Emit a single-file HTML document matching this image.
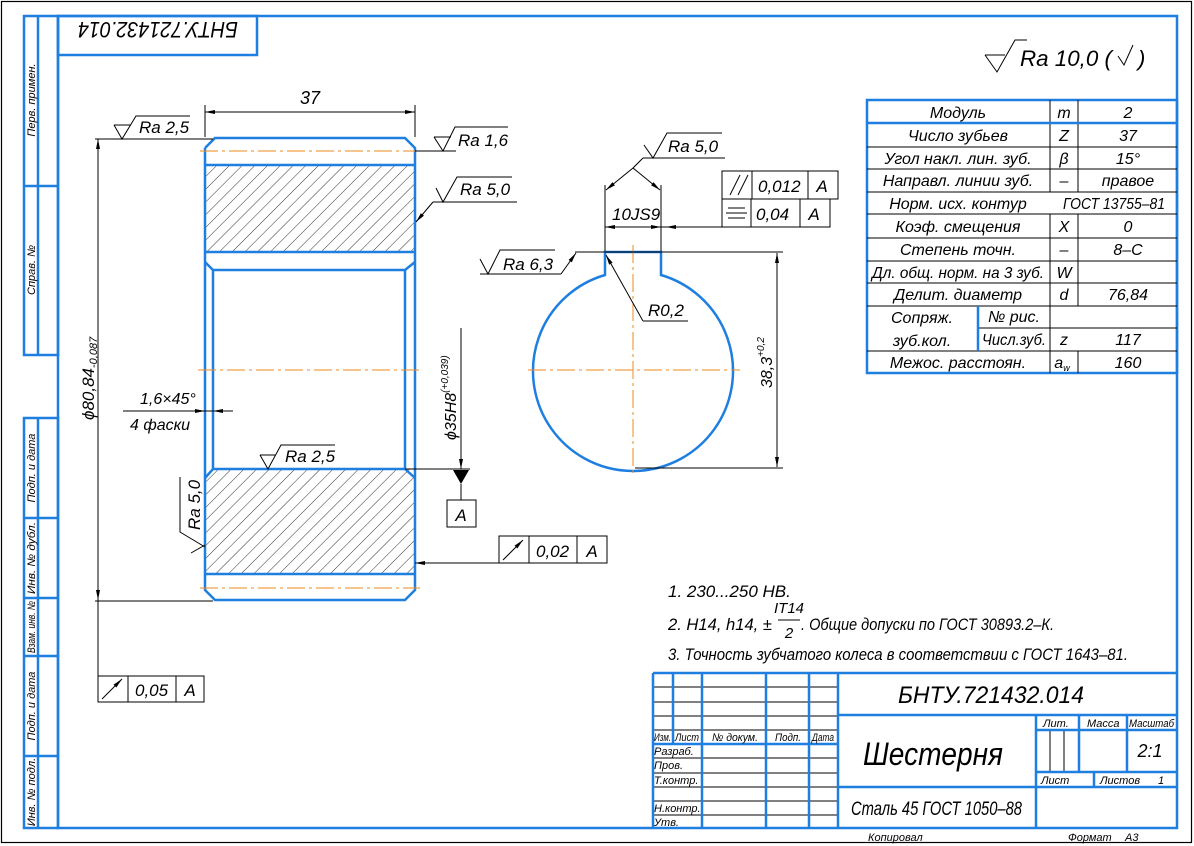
<!DOCTYPE html>
<html><head><meta charset="utf-8"><style>
html,body{margin:0;padding:0;background:#fff}
svg{display:block}
text{font-family:"Liberation Sans",sans-serif;font-style:italic;fill:#000}
.b{stroke:#1e7fe0;stroke-width:2.5;fill:none}
.k{stroke:#000;stroke-width:1;fill:none}
.o{stroke:#f08a1e;stroke-width:1;fill:none;stroke-dasharray:18 4 3 4}
</style></head><body>
<svg width="1194" height="846" viewBox="0 0 1194 846" xmlns="http://www.w3.org/2000/svg">
<defs>
<pattern id="h" width="9" height="9" patternUnits="userSpaceOnUse" patternTransform="rotate(45)">
<line x1="0" y1="0" x2="0" y2="9" stroke="#000" stroke-width="0.8"/>
</pattern>
<marker id="a" markerWidth="10" markerHeight="6" refX="10" refY="3" orient="auto" markerUnits="userSpaceOnUse"><path d="M0,1 L10,3 L0,5 z" fill="#000"/></marker>
<marker id="s" markerWidth="10" markerHeight="6" refX="0" refY="3" orient="auto" markerUnits="userSpaceOnUse"><path d="M10,1 L0,3 L10,5 z" fill="#000"/></marker>
</defs>
<rect x="1.5" y="1.5" width="1190" height="841" fill="none" stroke="#000" stroke-width="1.2"/>
<!-- frame -->
<rect class="b" x="58" y="16" width="1119" height="812"/>
<rect class="b" x="24" y="16" width="34" height="339"/>
<line class="b" x1="38" y1="16" x2="38" y2="355"/>
<line class="b" x1="24" y1="186" x2="58" y2="186"/>
<rect class="b" x="24" y="418" width="34" height="410"/>
<line class="b" x1="38" y1="418" x2="38" y2="828"/>
<line class="b" x1="24" y1="518" x2="58" y2="518"/>
<line class="b" x1="24" y1="598" x2="58" y2="598"/>
<line class="b" x1="24" y1="656" x2="58" y2="656"/>
<line class="b" x1="24" y1="756" x2="58" y2="756"/>
<g font-size="11">
<text transform="translate(35,100) rotate(-90)" text-anchor="middle">Перв. примен.</text>
<text transform="translate(35,270) rotate(-90)" text-anchor="middle">Справ. №</text>
<text transform="translate(35,468) rotate(-90)" text-anchor="middle">Подп. и дата</text>
<text transform="translate(35,558) rotate(-90)" text-anchor="middle" textLength="72" lengthAdjust="spacingAndGlyphs">Инв. № дубл.</text>
<text transform="translate(35,627) rotate(-90)" text-anchor="middle" textLength="52" lengthAdjust="spacingAndGlyphs">Взам. инв. №</text>
<text transform="translate(35,706) rotate(-90)" text-anchor="middle">Подп. и дата</text>
<text transform="translate(35,792) rotate(-90)" text-anchor="middle">Инв. № подл.</text>
</g>
<rect class="b" x="58" y="16" width="199" height="39"/>
<text transform="translate(158,28) rotate(180)" text-anchor="middle" font-size="22" dominant-baseline="middle" textLength="160" lengthAdjust="spacingAndGlyphs">БНТУ.721432.014</text>

<!-- Ra 10 top right -->
<polyline class="k" points="985,55 997,72 1015,40 1027,40" stroke-width="1.2"/>
<line class="k" x1="985" y1="55" x2="1005" y2="55"/>
<text x="1020" y="66" font-size="22" textLength="92" lengthAdjust="spacingAndGlyphs">Ra 10,0 (</text>
<polyline class="k" points="1118,56 1124,65 1133,45"/>
<text x="1138" y="66" font-size="22">)</text>

<!-- gear section -->
<rect x="205" y="165" width="210" height="87" fill="url(#h)"/>
<rect x="205" y="469" width="210" height="105" fill="url(#h)"/>
<polyline class="b" points="205,148 215,138 405,138 415,148 415,590 405,600 215,600 205,590 205,148"/>
<line class="b" x1="205" y1="165" x2="415" y2="165"/>
<line class="b" x1="205" y1="252" x2="415" y2="252"/>
<polyline class="b" points="205,262 213,270 405,270 415,262"/>
<line class="b" x1="213" y1="270" x2="213" y2="469"/>
<line class="b" x1="405" y1="270" x2="405" y2="469"/>
<polyline class="b" points="205,478 213,469 405,469 415,478"/>
<line class="b" x1="205" y1="574" x2="415" y2="574"/>
<line class="o" x1="200" y1="151" x2="420" y2="151"/>
<line class="o" x1="200" y1="588" x2="420" y2="588"/>
<line class="o" x1="198" y1="370" x2="422" y2="370"/>

<!-- dim 37 -->
<line class="k" x1="205" y1="105" x2="205" y2="137"/>
<line class="k" x1="415" y1="105" x2="415" y2="137"/>
<line class="k" x1="205" y1="112" x2="415" y2="112" marker-start="url(#s)" marker-end="url(#a)"/>
<text x="310" y="104" font-size="18" text-anchor="middle">37</text>
<!-- Ra 2,5 top left -->
<line class="k" x1="95" y1="139" x2="213" y2="139"/>
<polyline class="k" points="114,125 131,125"/>
<polyline class="k" points="114,125 122,139 136,116 190,116"/>
<text x="139" y="133" font-size="17">Ra 2,5</text>
<!-- φ80 -->
<line class="k" x1="98" y1="139" x2="98" y2="676" />
<line class="k" x1="98" y1="139" x2="98" y2="600" marker-start="url(#s)" marker-end="url(#a)"/>
<line class="k" x1="95" y1="601" x2="213" y2="601"/>
<text transform="translate(94,420) rotate(-90)" font-size="17">ϕ80,84<tspan font-size="11" dy="3">-0,087</tspan></text>
<!-- Ra 1,6 -->
<line class="k" x1="415" y1="151" x2="456" y2="151"/>
<line class="k" x1="434" y1="137" x2="451" y2="137"/>
<polyline class="k" points="434,137 443,151 455,127 508,127"/>
<text x="458" y="146" font-size="17">Ra 1,6</text>
<!-- Ra 5,0 -->
<polyline class="k" points="436,188 443,202 457,177 512,177"/>
<line class="k" x1="433" y1="202" x2="517" y2="202"/>
<line class="k" x1="433" y1="202" x2="416" y2="222" marker-end="url(#a)"/>
<text x="460" y="195" font-size="17">Ra 5,0</text>
<!-- chamfer -->
<line class="k" x1="123" y1="411" x2="233" y2="411"/>
<line class="k" x1="195" y1="411" x2="205" y2="411" marker-end="url(#a)"/>
<line class="k" x1="223" y1="411" x2="213" y2="411" marker-end="url(#a)"/>
<text x="140" y="404" font-size="16">1,6×45°</text>
<text x="130" y="430" font-size="16">4 фаски</text>
<!-- Ra 2,5 bottom -->
<line class="k" x1="260" y1="455" x2="275" y2="455"/>
<polyline class="k" points="260,455 268,469 281,445 335,445"/>
<text x="285" y="462" font-size="17">Ra 2,5</text>
<!-- Ra 5,0 rotated -->
<polyline class="k" points="180,477 180,532 205,547"/>
<line class="k" x1="191" y1="553" x2="205" y2="545"/>
<text transform="translate(200,530) rotate(-90)" font-size="17">Ra 5,0</text>
<!-- φ35H8 -->
<line class="k" x1="461" y1="328" x2="461" y2="469" marker-end="url(#a)"/>
<line class="k" x1="405" y1="469" x2="470" y2="469"/>
<path d="M453,470 L469,470 L461,484 z" fill="#000"/>
<line class="k" x1="461" y1="484" x2="461" y2="500"/>
<rect class="k" x="447" y="500" width="29" height="27"/>
<text x="461" y="521" font-size="17" text-anchor="middle">A</text>
<text transform="translate(456,440) rotate(-90)" font-size="16">ϕ35H8<tspan font-size="10" dy="-8">(+0,039)</tspan></text>
<!-- 0,02 frame -->
<line class="k" x1="499" y1="563" x2="415" y2="563" marker-end="url(#a)"/>
<rect class="k" x="499" y="536" width="108" height="27"/>
<line class="k" x1="529" y1="536" x2="529" y2="563"/>
<line class="k" x1="577" y1="536" x2="577" y2="563"/>
<line class="k" x1="503" y1="560" x2="523" y2="540" marker-end="url(#a)"/>
<text x="536" y="557" font-size="17">0,02</text>
<text x="592" y="557" font-size="17" text-anchor="middle">A</text>
<!-- 0,05 frame -->
<rect class="k" x="98" y="676" width="106" height="26"/>
<line class="k" x1="128" y1="676" x2="128" y2="702"/>
<line class="k" x1="176" y1="676" x2="176" y2="702"/>
<line class="k" x1="102" y1="699" x2="122" y2="679" marker-end="url(#a)"/>
<text x="135" y="696" font-size="17">0,05</text>
<text x="190" y="696" font-size="17" text-anchor="middle">A</text>

<!-- hub view -->
<path class="b" d="M605,252 L661,252 L661,275 A100,100 0 1 1 605,275 Z"/>
<line class="o" x1="633" y1="245" x2="633" y2="475"/>
<line class="o" x1="528" y1="370" x2="740" y2="370"/>
<line class="k" x1="605" y1="185" x2="605" y2="251"/>
<line class="k" x1="661" y1="185" x2="661" y2="251"/>
<line class="k" x1="605" y1="227" x2="722" y2="227"/>
<line class="k" x1="618" y1="227" x2="605" y2="227" marker-end="url(#a)"/>
<line class="k" x1="648" y1="227" x2="661" y2="227" marker-end="url(#a)"/>
<line class="k" x1="680" y1="227" x2="666" y2="227" marker-end="url(#a)"/>
<text x="612" y="220" font-size="17">10JS9</text>
<!-- tolerance frames -->
<rect class="k" x="722" y="171" width="116" height="28"/>
<line class="k" x1="752" y1="171" x2="752" y2="199"/>
<line class="k" x1="808" y1="171" x2="808" y2="199"/>
<line class="k" x1="730" y1="195" x2="740" y2="175"/><line class="k" x1="738" y1="195" x2="748" y2="175"/>
<text x="758" y="192" font-size="17">0,012</text>
<text x="822" y="192" font-size="17" text-anchor="middle">A</text>
<rect class="k" x="722" y="199" width="108" height="28"/>
<line class="k" x1="751" y1="199" x2="751" y2="227"/>
<line class="k" x1="800" y1="199" x2="800" y2="227"/>
<line class="k" x1="728" y1="208" x2="745" y2="208"/><line class="k" x1="726" y1="213" x2="747" y2="213"/><line class="k" x1="728" y1="218" x2="745" y2="218"/>
<text x="756" y="220" font-size="17">0,04</text>
<text x="814" y="220" font-size="17" text-anchor="middle">A</text>
<!-- Ra 5,0 keyway -->
<polyline class="k" points="644,145 653,158 667,133 722,133"/>
<line class="k" x1="643" y1="158" x2="725" y2="158"/>
<line class="k" x1="643" y1="158" x2="633" y2="168"/>
<line class="k" x1="633" y1="168" x2="606" y2="190" marker-end="url(#a)"/>
<line class="k" x1="633" y1="168" x2="660" y2="190" marker-end="url(#a)"/>
<text x="668" y="152" font-size="17">Ra 5,0</text>
<!-- Ra 6,3 -->
<polyline class="k" points="480,259 488,274 500,250 555,250"/>
<line class="k" x1="480" y1="274" x2="561" y2="274"/>
<line class="k" x1="561" y1="274" x2="576" y2="253" marker-end="url(#a)"/>
<text x="503" y="270" font-size="17">Ra 6,3</text>
<!-- 38.3 -->
<line class="k" x1="575" y1="252" x2="783" y2="252"/>
<line class="k" x1="635" y1="468" x2="783" y2="468"/>
<line class="k" x1="777" y1="253" x2="777" y2="467" marker-start="url(#s)" marker-end="url(#a)"/>
<text transform="translate(772,388) rotate(-90)" font-size="16">38,3<tspan font-size="10" dy="-8">+0,2</tspan></text>
<!-- R0,2 -->
<line class="k" x1="643" y1="321" x2="606" y2="255" marker-end="url(#a)"/>
<line class="k" x1="643" y1="321" x2="688" y2="321"/>
<text x="648" y="316" font-size="17">R0,2</text>

<!-- params table -->
<g>
<rect x="867" y="100" width="310" height="273" fill="none" stroke="#1e7fe0" stroke-width="2.5"/>
<g class="k">
<line x1="1050" y1="100" x2="1050" y2="192"/><line x1="1050" y1="214" x2="1050" y2="373"/>
<line x1="1078" y1="100" x2="1078" y2="192"/><line x1="1078" y1="214" x2="1078" y2="306"/><line x1="1078" y1="351" x2="1078" y2="373"/>
<line x1="1050" y1="306" x2="1050" y2="351"/>
<line x1="867" y1="147" x2="1177" y2="147"/><line x1="867" y1="169" x2="1177" y2="169"/>
<line x1="867" y1="192" x2="1177" y2="192"/><line x1="867" y1="214" x2="1177" y2="214"/>
<line x1="867" y1="238" x2="1177" y2="238"/><line x1="867" y1="261" x2="1177" y2="261"/>
<line x1="867" y1="283" x2="1177" y2="283"/><line x1="867" y1="306" x2="1177" y2="306"/>
<line x1="978" y1="328" x2="1177" y2="328"/><line x1="867" y1="351" x2="1177" y2="351"/>
</g>
<line class="b" x1="867" y1="123" x2="1177" y2="123"/>
<line class="b" x1="978" y1="306" x2="978" y2="351"/>
<g font-size="16" text-anchor="middle">
<text x="958" y="118">Модуль</text><text x="1064" y="118">m</text><text x="1128" y="118">2</text>
<text x="958" y="141">Число зубьев</text><text x="1064" y="141">Z</text><text x="1128" y="141">37</text>
<text x="958" y="164">Угол накл. лин. зуб.</text><text x="1064" y="164">β</text><text x="1128" y="164">15°</text>
<text x="958" y="186">Направл. линии зуб.</text><text x="1064" y="186">–</text><text x="1128" y="186">правое</text>
<text x="958" y="209">Норм. исх. контур</text><text x="1114" y="209" textLength="102" lengthAdjust="spacingAndGlyphs">ГОСТ 13755–81</text>
<text x="958" y="232">Коэф. смещения</text><text x="1064" y="232">X</text><text x="1128" y="232">0</text>
<text x="958" y="255">Степень точн.</text><text x="1064" y="255">–</text><text x="1128" y="255">8–С</text>
<text x="958" y="278" textLength="172" lengthAdjust="spacingAndGlyphs">Дл. общ. норм. на 3 зуб.</text><text x="1064" y="278">W</text>
<text x="958" y="300">Делит. диаметр</text><text x="1064" y="300">d</text><text x="1128" y="300">76,84</text>
<text x="922" y="323">Сопряж.</text><text x="922" y="346">зуб.кол.</text>
<text x="1014" y="322">№ рис.</text><text x="1014" y="345" textLength="64" lengthAdjust="spacingAndGlyphs">Числ.зуб.</text><text x="1064" y="345">z</text><text x="1128" y="345">117</text>
<text x="958" y="368">Межос. расстоян.</text><text x="1062" y="368">a<tspan font-size="9" dy="3">w</tspan></text><text x="1128" y="368">160</text>
</g>
</g>

<!-- notes -->
<g font-size="17">
<text x="668" y="597">1.  230...250 HB.</text>
<text x="668" y="630" textLength="104" lengthAdjust="spacingAndGlyphs">2.  H14, h14, ±</text>
<text x="789" y="613" font-size="15" text-anchor="middle">IT14</text>
<line class="k" x1="778" y1="620" x2="800" y2="620"/>
<text x="789" y="638" font-size="15" text-anchor="middle">2</text>
<text x="801" y="630" textLength="253" lengthAdjust="spacingAndGlyphs">. Общие допуски по ГОСТ 30893.2–К.</text>
<text x="668" y="660" textLength="460" lengthAdjust="spacingAndGlyphs">3.  Точность зубчатого колеса в соответствии с ГОСТ 1643–81.</text>
</g>

<!-- title block -->
<g class="k">
<line x1="653" y1="687" x2="838" y2="687"/><line x1="653" y1="702" x2="838" y2="702"/>
<line x1="653" y1="716" x2="838" y2="716"/><line x1="653" y1="730" x2="838" y2="730"/>
<line x1="653" y1="758" x2="838" y2="758"/><line x1="653" y1="773" x2="838" y2="773"/>
<line x1="653" y1="787" x2="838" y2="787"/><line x1="653" y1="801" x2="838" y2="801"/>
<line x1="653" y1="815" x2="838" y2="815"/>
<line x1="1050" y1="730" x2="1050" y2="772"/><line x1="1064" y1="730" x2="1064" y2="772"/>
</g>
<g class="b">
<line x1="653" y1="673" x2="1177" y2="673"/>
<line x1="653" y1="673" x2="653" y2="828"/>
<line x1="673" y1="673" x2="673" y2="744"/>
<line x1="702" y1="673" x2="702" y2="828"/>
<line x1="766" y1="673" x2="766" y2="828"/>
<line x1="809" y1="673" x2="809" y2="828"/>
<line x1="838" y1="673" x2="838" y2="828"/>
<line x1="653" y1="744" x2="838" y2="744"/>
<line x1="838" y1="715" x2="1177" y2="715"/>
<line x1="838" y1="787" x2="1177" y2="787"/>
<line x1="1036" y1="715" x2="1036" y2="828"/>
<line x1="1079" y1="715" x2="1079" y2="772"/>
<line x1="1127" y1="715" x2="1127" y2="772"/>
<line x1="1036" y1="730" x2="1177" y2="730"/>
<line x1="1036" y1="772" x2="1177" y2="772"/>
<line x1="1094" y1="772" x2="1094" y2="787"/>
</g>
<g font-size="11">
<text x="654" y="741" textLength="17" lengthAdjust="spacingAndGlyphs">Изм.</text>
<text x="675" y="741" textLength="24" lengthAdjust="spacingAndGlyphs">Лист</text>
<text x="712" y="741" textLength="46" lengthAdjust="spacingAndGlyphs">№ докум.</text>
<text x="775" y="741" textLength="26" lengthAdjust="spacingAndGlyphs">Подп.</text>
<text x="812" y="741" textLength="22" lengthAdjust="spacingAndGlyphs">Дата</text>
<text x="654" y="755">Разраб.</text>
<text x="654" y="769">Пров.</text>
<text x="654" y="784">Т.контр.</text>
<text x="654" y="812">Н.контр.</text>
<text x="654" y="826">Утв.</text>
<text x="1043" y="727">Лит.</text>
<text x="1087" y="727">Масса</text>
<text x="1129" y="727" textLength="45" lengthAdjust="spacingAndGlyphs">Масштаб</text>
<text x="1041" y="784">Лист</text>
<text x="1100" y="784">Листов</text>
<text x="1158" y="784">1</text>
<text x="868" y="841">Копировал</text>
<text x="1068" y="841">Формат</text>
<text x="1125" y="841">А3</text>
</g>
<text x="898" y="703" font-size="24" textLength="186" lengthAdjust="spacingAndGlyphs">БНТУ.721432.014</text>
<text x="863" y="765" font-size="32" textLength="140" lengthAdjust="spacingAndGlyphs">Шестерня</text>
<text x="851" y="815" font-size="19" textLength="171" lengthAdjust="spacingAndGlyphs">Сталь 45 ГОСТ 1050–88</text>
<text x="1150" y="757" font-size="18" text-anchor="middle">2:1</text>
</svg>
</body></html>
